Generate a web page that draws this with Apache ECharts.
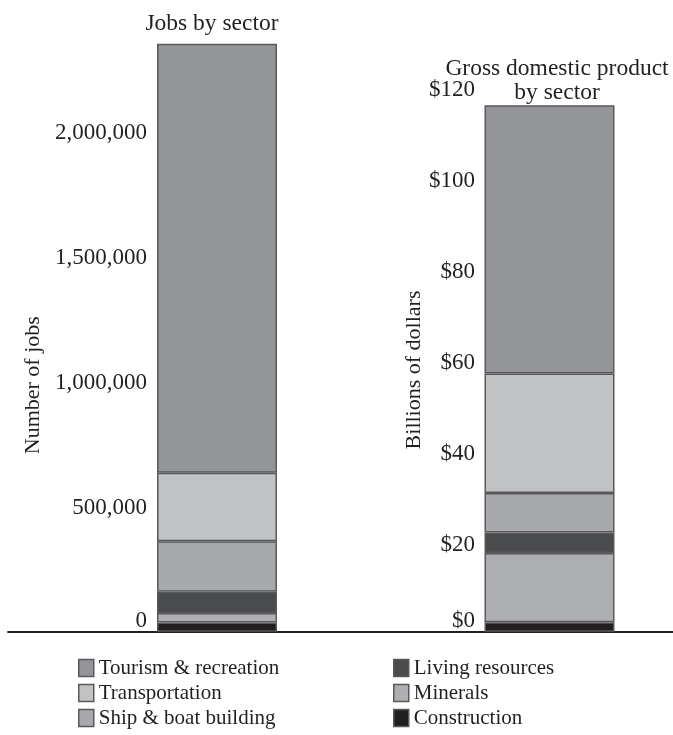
<!DOCTYPE html>
<html>
<head>
<meta charset="utf-8">
<script src="https://cdn.jsdelivr.net/npm/echarts@6/dist/echarts.min.js"></script>
<style>
  html, body { margin: 0; padding: 0; background: #ffffff; }
  #chart { width: 673px; height: 735px; }
</style>
</head>
<body>
<div id="chart"></div>
<script>
// Ocean economy: jobs and GDP by sector (stacked from the bottom: construction first)
const sectors = ['Tourism & recreation', 'Transportation', 'Ship & boat building',
                 'Living resources', 'Minerals', 'Construction'];
const jobs = [1712000, 274000, 202000, 84000, 38000, 37000];
const gdp = [59.0, 26.3, 8.7, 4.5, 15.2, 2.1];
const jobTicks = [0, 500000, 1000000, 1500000, 2000000];
const gdpTicks = [0, 20, 40, 60, 80, 100, 120];

const fills = {
  'Tourism & recreation': '#939598',
  'Transportation': '#c1c2c4',
  'Ship & boat building': '#a8a9ac',
  'Living resources': '#4a4b4d',
  'Minerals': '#aeafb2',
  'Construction': '#231f20'
};
const ink = '#231f20';
const edge = '#58595b';
const serif = 'Liberation Serif';

const chart = echarts.init(document.getElementById('chart'), null, { renderer: 'canvas' });

// bottom-up stacking order
const order = sectors.slice().reverse();

function makeSeries(values, axisIndex, stack, width) {
  return order.map(function (name) {
    const i = sectors.indexOf(name);
    return {
      name: name,
      type: 'bar',
      stack: stack,
      xAxisIndex: axisIndex,
      yAxisIndex: axisIndex,
      barWidth: width,
      clip: false,
      data: [values[i]],
      itemStyle: { color: fills[name], borderColor: edge, borderWidth: 1.5 },
      emphasis: { disabled: true }
    };
  });
}

const legendText = { color: ink, fontFamily: serif, fontSize: 21, lineHeight: 22 };
const legendBase = {
  orient: 'vertical',
  top: 652,
  itemWidth: 15,
  itemHeight: 17,
  itemGap: 3,
  itemTextGap: 10,
  icon: 'rect',
  selectedMode: false,
  textStyle: legendText,
  itemStyle: { borderColor: edge, borderWidth: 1.5 }
};

const tickFont = 23;

const option = {
  backgroundColor: '#ffffff',
  animation: false,
  title: [
    { text: 'Jobs by sector', left: 207, top: 7, textAlign: 'center',
      textStyle: { color: ink, fontFamily: serif, fontSize: 23.5, fontWeight: 'normal' } },
    { text: 'Gross domestic product\nby sector', left: 552, top: 52, textAlign: 'center',
      textStyle: { color: ink, fontFamily: serif, fontSize: 23.5, fontWeight: 'normal', lineHeight: 24 } }
  ],
  legend: [
    Object.assign({}, legendBase, { left: 73, data: sectors.slice(0, 3) }),
    Object.assign({}, legendBase, { left: 388, data: sectors.slice(3) })
  ],
  grid: [
    { left: 8, width: 418, top: 130.7, bottom: 103.3 },
    { left: 426, width: 247, top: 86.2, bottom: 103.3 }
  ],
  xAxis: [0, 1].map(function (k) {
    return {
      type: 'category',
      gridIndex: k,
      data: [k === 0 ? 'Jobs' : 'GDP'],
      axisLine: { show: true, lineStyle: { color: ink, width: 1.8 } },
      axisTick: { show: false },
      axisLabel: { show: false },
      splitLine: { show: false }
    };
  }),
  yAxis: [
    {
      type: 'value', gridIndex: 0,
      min: jobTicks[0], max: jobTicks[jobTicks.length - 1],
      interval: jobTicks[1] - jobTicks[0],
      offset: -147,
      axisLine: { show: false }, axisTick: { show: false }, splitLine: { show: false },
      axisLabel: {
        margin: 8, color: ink, fontFamily: serif, fontSize: tickFont,
        formatter: function (v) {
          return v === 0 ? '{z|0}' : '{t|' + v.toLocaleString('en-US') + '}';
        },
        rich: {
          z: { fontFamily: serif, fontSize: tickFont, color: ink, padding: [0, 0, 22, 0] },
          t: { fontFamily: serif, fontSize: tickFont, color: ink, padding: [4, 0, 0, 0] }
        }
      },
      name: 'Number of jobs', nameLocation: 'middle', nameGap: 108,
      nameTextStyle: { color: ink, fontFamily: serif, fontSize: 22, padding: [0, 8, 0, 0] }
    },
    {
      type: 'value', gridIndex: 1,
      min: gdpTicks[0], max: gdpTicks[gdpTicks.length - 1],
      interval: gdpTicks[1] - gdpTicks[0],
      offset: -57,
      axisLine: { show: false }, axisTick: { show: false }, splitLine: { show: false },
      axisLabel: {
        margin: 8, color: ink, fontFamily: serif, fontSize: tickFont,
        formatter: function (v) {
          return v === 0 ? '{z|$0}' : '{t|$' + v + '}';
        },
        rich: {
          z: { fontFamily: serif, fontSize: tickFont, color: ink, padding: [0, 0, 22, 0] },
          t: { fontFamily: serif, fontSize: tickFont, color: ink, padding: [8, 0, 0, 0] }
        }
      },
      name: 'Billions of dollars', nameLocation: 'middle', nameGap: 54,
      nameTextStyle: { color: ink, fontFamily: serif, fontSize: 22, padding: [0, 22, 0, 0] }
    }
  ],
  series: makeSeries(jobs, 0, 'jobs', 120).concat(makeSeries(gdp, 1, 'gdp', 130))
};

chart.setOption(option);
</script>
</body>
</html>
